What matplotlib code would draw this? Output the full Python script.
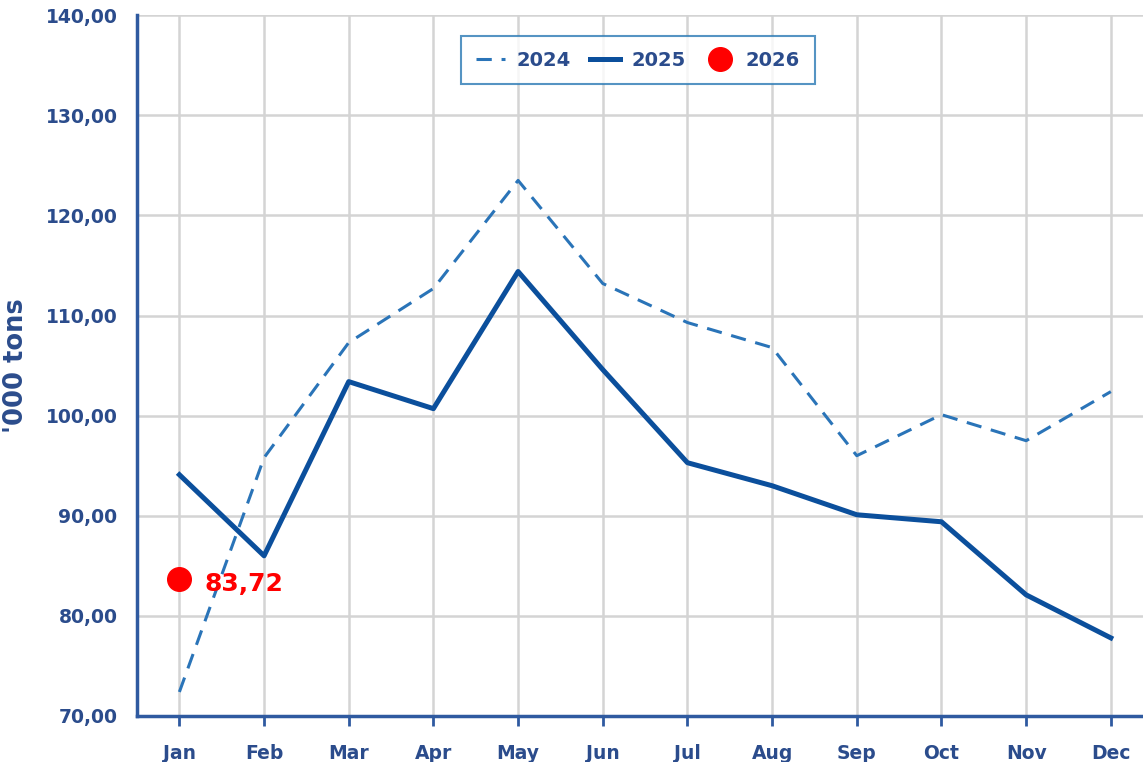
import numpy as np
import matplotlib.pyplot as plt

months = ["Jan", "Feb", "Mar", "Apr", "May", "Jun", "Jul", "Aug", "Sep", "Oct", "Nov", "Dec"]
vals_2024 = [72.4, 95.8, 107.3, 112.7, 123.5, 113.2, 109.3, 106.8, 96.0, 100.1, 97.5, 102.4]
vals_2025 = [94.1, 86.0, 103.4, 100.7, 114.4, 104.6, 95.3, 93.0, 90.1, 89.4, 82.1, 77.8]
vals_2026 = [83.72]
yticks = [70, 80, 90, 100, 110, 120, 130, 140]

txt_col = "#2b4c8c"
spine_col = "#2f5aa0"

fig = plt.figure(figsize=(11.43, 7.62), dpi=100)
ax = fig.add_axes([0.1199, 0.0604, 0.8801, 0.9196])

x = np.arange(len(months))
ax.plot(x, vals_2024, color="#2a74b8", lw=2.2, dashes=(5, 3.2), label="2024")
ax.plot(x, vals_2025, color="#0b4f9c", lw=3.6, label="2025")
ax.plot(x[:len(vals_2026)], vals_2026, "o", color="#ff0000", ms=17, label="2026", zorder=5)
for i, v in enumerate(vals_2026):
    ax.annotate(f"{v:.2f}".replace(".", ","), (x[i], v), xytext=(18, -4),
                textcoords="offset points", va="center", ha="left",
                color="#ff0000", fontsize=18, fontweight="bold")

ax.set_xlim(-0.5, 11.38)
ax.set_ylim(70, 140)
ax.set_xticks(x)
ax.set_xticklabels(months)
ax.set_yticks(yticks)
ax.set_yticklabels([f"{t:.2f}".replace(".", ",") for t in yticks])
ax.grid(True, color="#d4d4d4", lw=1.8)
ax.set_axisbelow(True)

for s in ["top", "right"]:
    ax.spines[s].set_visible(False)
for s in ["left", "bottom"]:
    ax.spines[s].set_color(spine_col)
    ax.spines[s].set_linewidth(2.5)

ax.tick_params(axis="x", colors=spine_col, length=7, width=2, pad=13)
ax.tick_params(axis="y", length=0, pad=14)
for lab in ax.get_xticklabels() + ax.get_yticklabels():
    lab.set_color(txt_col)
    lab.set_fontweight("bold")
    lab.set_fontsize(13.5)

ax.set_ylabel("'000 tons", color=txt_col, fontsize=18.5, fontweight="bold", labelpad=12)

leg = ax.legend(loc="upper center", bbox_to_anchor=(0.498, 0.984), ncol=3, frameon=True,
                fancybox=False, edgecolor="#2a7ab5", handlelength=1.5, columnspacing=1.0,
                handletextpad=0.6, prop={"weight": "bold", "size": 14}, borderpad=0.75)
leg.get_frame().set_linewidth(1.5)
for t in leg.get_texts():
    t.set_color(txt_col)

fig.savefig("out.png", dpi=100)
